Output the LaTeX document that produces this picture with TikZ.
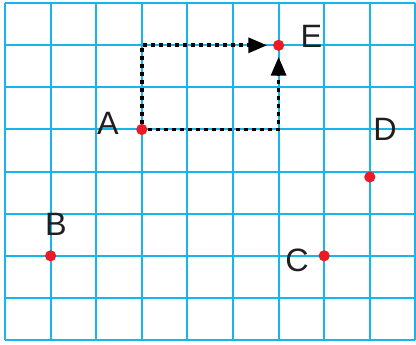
\documentclass[tikz,border=0pt]{standalone}
\usepackage{fontspec}
\setmainfont{Liberation Sans}
\usepackage{tikz}
\usetikzlibrary{
	arrows.meta,
	calc,
	positioning
}

\definecolor{gridblue}{RGB}{22,182,236}
\definecolor{dotred}{RGB}{234,26,38}

\tikzset{
	gridline/.style={gridblue, line width=0.05cm},
	pt/.style={circle, fill=dotred, inner sep=0pt, minimum size=0.28cm},
	lbl/.style={inner sep=0pt, text=black!88, font=\fontsize{23}{27}\selectfont},
	route/.style={line width=0.09cm, black, dash pattern=on 0.1cm off 0.1cm,
		-{Triangle[length=0.47cm, width=0.37cm]}, shorten >=0.14cm}
}

\begin{document}
\begin{tikzpicture}[scale=1]
		\useasboundingbox (-0.125,-0.1) rectangle (10.275,8.5);
		% grid
		\foreach \i in {0,...,9}
			\draw[gridline] (\i*1.14,0) -- (\i*1.14,8.42);
		\foreach \j in {0,...,8}
			\draw[gridline] (0,\j*1.0525) -- (10.26,\j*1.0525);
		% points
		\node[pt] (A) at (3.42,5.2625) {};
		\node[pt] (E) at (6.84,7.3675) {};
		\node[pt] (D) at (9.12,4.075) {};
		\node[pt] (B) at (1.14,2.105) {};
		\node[pt] (C) at (7.98,2.105) {};
		\node[lbl] (labA) at (2.575,5.41) {A};
		\node[lbl] (labE) at (7.66,7.59) {E};
		\node[lbl] (labD) at (9.5,5.26) {D};
		\node[lbl] (labB) at (1.275,2.89) {B};
		\node[lbl] (labC) at (7.3,2.0) {C};
		% two routes from A to E
		\coordinate (upA) at (A |- E);
		\coordinate (rtA) at (A -| E);
		\draw[route] (A) -- (upA) -- (E);
		\draw[route] (A) -- (rtA) -- (E);
	\end{tikzpicture}
\end{document}
